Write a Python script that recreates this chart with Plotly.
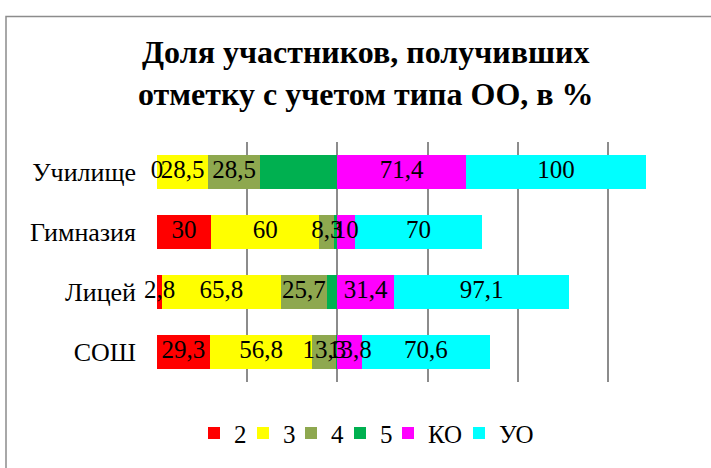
import plotly.graph_objects as go

# categories bottom -> top
cats = ['СОШ', 'Лицей', 'Гимназия', 'Училище']
series = ['2', '3', '4', '5', 'КО', 'УО']

v2 = [29.3, 2.8, 30, 0]
v3 = [56.8, 65.8, 60, 28.5]
v4 = [13.3, 25.7, 8.3, 28.5]
v5 = [0.6, 5.7, 1.7, 42.9]
v_ko = [13.8, 31.4, 10, 71.4]
v_uo = [70.6, 97.1, 70, 100]

values = [v2, v3, v4, v5, v_ko, v_uo]
colors = ['#FF0000', '#FFFF00', '#8EA84F', '#00B050', '#FF00FF', '#00FFFF']
show_labels = [True, True, True, False, True, True]  # series "5" has no labels

FONT = 'Liberation Serif, Times New Roman, Times, serif'

# one small legend per series so the entries sit as tightly as in Excel
legend_left_px = [194, 243, 291, 340, 388, 459]
L, R, T, B = 157, 13, 142, 83
PW, PH = 711 - L - R, 468 - T - B

fig = go.Figure()

for i, (name, vals, col) in enumerate(zip(series, values, colors)):
    fig.add_trace(go.Bar(
        y=cats, x=vals, name=name, orientation='h',
        marker=dict(color=col, line=dict(width=0)),
        legend='legend' if i == 0 else f'legend{i + 1}',
    ))

# data labels centred on each segment, allowed to overflow like in Excel
base = [0] * len(cats)
for vals, show in zip(values, show_labels):
    mids = [b + v / 2 for b, v in zip(base, vals)]
    if show:
        fig.add_trace(go.Scatter(
            x=mids, y=cats, mode='text',
            text=[f'{v:g}'.replace('.', ',') for v in vals],
            textfont=dict(family=FONT, size=25, color='black'),
            showlegend=False, hoverinfo='skip', cliponaxis=False,
        ))
    base = [b + v for b, v in zip(base, vals)]

legends = {}
for i, px in enumerate(legend_left_px):
    key = 'legend' if i == 0 else f'legend{i + 1}'
    legends[key] = dict(
        orientation='h', x=(px - L) / PW, xanchor='left',
        y=(385 - 437) / PH, yanchor='middle',
        font=dict(family=FONT, size=25, color='black'),
        itemwidth=30, itemclick=False, bgcolor='rgba(0,0,0,0)',
    )

fig.update_layout(
    barmode='stack',
    bargap=0.42,
    width=711, height=468,
    margin=dict(l=L, r=R, t=T, b=B),
    paper_bgcolor='white', plot_bgcolor='white',
    font=dict(family=FONT, size=25, color='black'),
    showlegend=True,
    **legends,
    annotations=[dict(
        text='<b>Доля участников, получивших<br>отметку с учетом типа ОО, в %</b>',
        font=dict(family=FONT, size=32, color='black'),
        xref='paper', yref='paper',
        x=(366 - L) / PW, y=(385 - 72.5) / PH,
        xanchor='center', yanchor='middle', showarrow=False,
    )],
    shapes=[dict(
        type='rect', xref='paper', yref='paper',
        x0=(6 - L) / PW, x1=1.2, y0=-0.6, y1=(385 - 15) / PH,
        line=dict(color='#8C8C8C', width=1.5), layer='below',
    )],
)

fig.update_xaxes(
    range=[0, 300], dtick=50, showticklabels=False,
    showgrid=True, gridcolor='#8C8C8C', gridwidth=1.5,
    zeroline=False, showline=False, fixedrange=True, automargin=False,
)
fig.update_yaxes(
    categoryorder='array', categoryarray=cats,
    showgrid=False, zeroline=False, showline=False,
    ticks='', ticklabelstandoff=20, fixedrange=True, automargin=False,
    tickfont=dict(family=FONT, size=26, color='black'),
)

# the page body has a default 8px margin; drop it so the figure sits at (0, 0)
fig.write_html('out.html', config={'displayModeBar': False},
               post_script="document.body.style.margin='0';")
